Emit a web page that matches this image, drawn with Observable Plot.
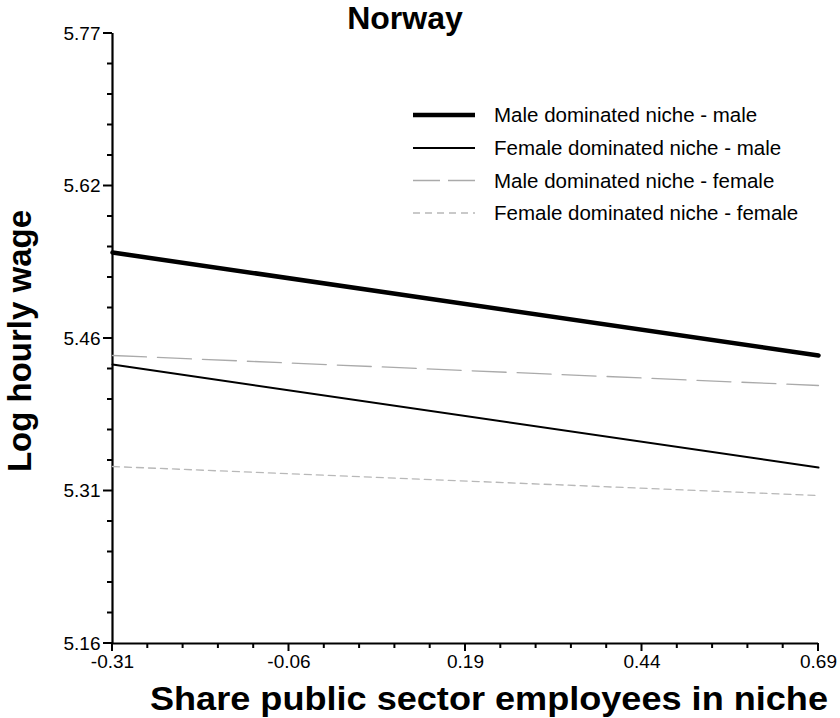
<!DOCTYPE html>
<html>
<head>
<meta charset="utf-8">
<script src="https://cdn.jsdelivr.net/npm/d3@7"></script>
<script src="https://cdn.jsdelivr.net/npm/@observablehq/plot@0.6"></script>
<style>
  html, body { margin: 0; padding: 0; background: #fff; }
  #chart { width: 840px; height: 718px; }
</style>
</head>
<body>
<div id="chart"></div>
<script>
// ---- data ----
const xEnds = [-0.31, 0.69];
const maleNicheMale = [5.551, 5.448];
const femaleNicheMale = [5.439, 5.336];
const maleNicheFemale = [5.448, 5.418];
const femaleNicheFemale = [5.337, 5.308];

const seriesNames = [
  "Male dominated niche - male",
  "Female dominated niche - male",
  "Male dominated niche - female",
  "Female dominated niche - female"
];

const xTicks = [-0.31, -0.06, 0.19, 0.44, 0.69];
const xTickLabels = ["-0.31", "-0.06", "0.19", "0.44", "0.69"];
const yTicks = [5.16, 5.3125, 5.465, 5.6175, 5.77];
const yTickLabels = ["5.16", "5.31", "5.46", "5.62", "5.77"];

const xMinor = d3.range(0, 21).map(i => -0.31 + i * 0.05);
const yMinor = d3.range(0, 21).map(i => 5.16 + i * 0.0305);

const styles = [
  {stroke: "#000", strokeWidth: 4.5, dash: null},
  {stroke: "#000", strokeWidth: 2, dash: null},
  {stroke: "#aaaaaa", strokeWidth: 1.3, dash: "34,11"},
  {stroke: "#b8b8b8", strokeWidth: 1.3, dash: "7,5"}
];
const seriesValues = [maleNicheMale, femaleNicheMale, maleNicheFemale, femaleNicheFemale];
const rows = seriesValues.map((vals, s) => xEnds.map((x, i) => ({x, y: vals[i], s})));

const lineMarks = rows.map((r, s) => Plot.line(r, {
  x: "x", y: "y",
  stroke: styles[s].stroke,
  strokeWidth: styles[s].strokeWidth,
  strokeDasharray: styles[s].dash
}));

const plot = Plot.plot({
  width: 840,
  height: 718,
  marginLeft: 112,
  marginRight: 22,
  marginTop: 33,
  marginBottom: 75,
  style: {fontFamily: "'Liberation Sans', Arial, sans-serif", fontSize: "19px", color: "#000", background: "#fff"},
  x: {domain: [-0.31, 0.69]},
  y: {domain: [5.16, 5.77]},
  marks: [
    Plot.axisY(yTicks, {tickSize: 0, tickPadding: 12, fontSize: 19, fill: "#000",
      tickFormat: d => yTickLabels[yTicks.indexOf(d)], label: null}),
    Plot.axisX(xTicks, {tickSize: 0, tickPadding: 11, fontSize: 19, fill: "#000",
      tickFormat: d => xTickLabels[xTicks.indexOf(d)], label: null}),
    Plot.ruleX([-0.31], {strokeWidth: 2.2}),
    Plot.ruleY([5.16], {strokeWidth: 2.2}),
    ...lineMarks
  ]
});

document.getElementById("chart").appendChild(plot);

// ---- tick lines, positioned through Plot's own scales ----
const svg = d3.select(plot);
const sx = plot.scale("x"), sy = plot.scale("y");
const x0 = sx.apply(-0.31), y0 = sy.apply(5.16);
const tg = svg.append("g").attr("stroke", "#000");
yMinor.forEach(v => {
  const major = yTicks.some(t => Math.abs(t - v) < 1e-6);
  tg.append("line").attr("x1", x0 - (major ? 9 : 5)).attr("x2", x0)
    .attr("y1", sy.apply(v)).attr("y2", sy.apply(v)).attr("stroke-width", 2);
});
xMinor.forEach(v => {
  const major = xTicks.some(t => Math.abs(t - v) < 1e-6);
  tg.append("line").attr("y1", y0).attr("y2", y0 + (major ? 8 : 5))
    .attr("x1", sx.apply(v)).attr("x2", sx.apply(v)).attr("stroke-width", 2);
});

// ---- titles & legend (layout only) ----
const font = "'Liberation Sans', Arial, sans-serif";

svg.append("text")
  .attr("x", 405).attr("y", 29)
  .attr("text-anchor", "middle")
  .attr("font-family", font).attr("font-weight", "bold").attr("font-size", 32)
  .attr("fill", "#000")
  .text("Norway");

svg.append("text")
  .attr("x", 150).attr("y", 710)
  .attr("text-anchor", "start")
  .attr("textLength", 678).attr("lengthAdjust", "spacingAndGlyphs")
  .attr("font-family", font).attr("font-weight", "bold").attr("font-size", 33)
  .attr("fill", "#000")
  .text("Share public sector employees in niche");

svg.append("text")
  .attr("transform", "translate(31,341) rotate(-90)")
  .attr("text-anchor", "middle")
  .attr("font-family", font).attr("font-weight", "bold").attr("font-size", 33)
  .attr("fill", "#000")
  .text("Log hourly wage");

const legendY = [115, 148, 180.5, 213];
const lg = svg.append("g");
seriesNames.forEach((name, i) => {
  lg.append("line")
    .attr("x1", 413).attr("x2", 475)
    .attr("y1", legendY[i]).attr("y2", legendY[i])
    .attr("stroke", styles[i].stroke)
    .attr("stroke-width", styles[i].strokeWidth)
    .attr("stroke-dasharray", i === 2 ? "27,8" : styles[i].dash);
  lg.append("text")
    .attr("x", 494).attr("y", legendY[i] + 7)
    .attr("text-anchor", "start")
    .attr("font-family", font).attr("font-size", 20.5)
    .attr("fill", "#000")
    .text(name);
});
</script>
</body>
</html>
